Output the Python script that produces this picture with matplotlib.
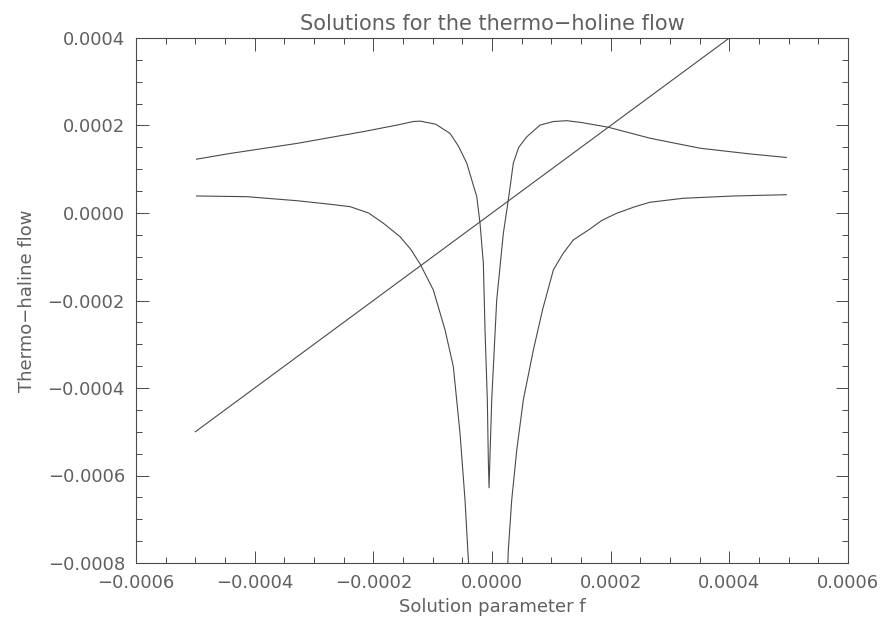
import matplotlib
matplotlib.use("Agg")
import matplotlib.pyplot as plt
from matplotlib.ticker import MultipleLocator, FuncFormatter

# values
upper_x = [-0.000498, -0.000442, -0.000329, -0.000217, -0.000160, -0.000133, -0.000121, -0.000095,
           -0.0000708, -0.0000567, -0.0000426, -0.0000257, -0.0000202, -0.0000146, -0.0000118,
           -0.0000079, -0.0000062, -0.000005, -0.0000005, 0.0000079, 0.0000191,
           0.0000275, 0.0000359, 0.000045, 0.0000585, 0.000081, 0.000103, 0.000126, 0.000150,
           0.000196, 0.000266, 0.000351, 0.000435, 0.000496]
upper_y = [0.000123, 0.000136, 0.000159, 0.000186, 0.000201, 0.000209, 0.000210, 0.000203,
           0.000182, 0.000153, 0.000114, 0.0000373, -0.0000235, -0.000115, -0.000267,
           -0.000427, -0.000565, -0.000628, -0.000427, -0.000199, -0.0000464,
           0.000030, 0.000114, 0.000150, 0.000174, 0.000201, 0.000209, 0.000211, 0.000207,
           0.000196, 0.000171, 0.000148, 0.000135, 0.000127]

lower_left_x = [-0.000498, -0.000413, -0.000329, -0.000273, -0.000239, -0.000208, -0.000183,
                -0.000155, -0.000137, -0.000121, -0.0000989, -0.0000792, -0.0000652,
                -0.0000539, -0.0000455, -0.0000399, -0.000037]
lower_left_y = [0.0000389, 0.0000373, 0.0000281, 0.0000200, 0.0000144, 0.0000000, -0.0000235,
                -0.0000542, -0.0000830, -0.000117, -0.000176, -0.000267, -0.000351,
                -0.000504, -0.000656, -0.000793, -0.00086]

lower_right_x = [0.000025, 0.0000275, 0.0000332, 0.0000417, 0.0000528, 0.0000697, 0.0000854,
                 0.0001034, 0.000120, 0.000137, 0.000165, 0.000185, 0.000210, 0.000240,
                 0.000266, 0.000322, 0.000407, 0.000496]
lower_right_y = [-0.00086, -0.00077, -0.000656, -0.000542, -0.000427, -0.000313, -0.000220,
                 -0.000130, -0.0000920, -0.0000617, -0.0000366, -0.0000170, -0.0000007, 0.0000140,
                 0.0000245, 0.0000336, 0.0000389, 0.0000418]

line_x = [-0.0005, 0.0005]
line_y = [-0.0005, 0.0005]

gray = "#4a4a4a"
txt = "#606060"

fig = plt.figure(figsize=(8.85, 6.25), dpi=100)
ax = fig.add_axes([0.1537, 0.0992, 0.8045, 0.840])

for xs, ys in [(upper_x, upper_y), (lower_left_x, lower_left_y),
               (lower_right_x, lower_right_y), (line_x, line_y)]:
    ax.plot(xs, ys, color=gray, lw=0.8)

ax.set_xlim(-0.0006, 0.0006)
ax.set_ylim(-0.0008, 0.0004)
ax.xaxis.set_major_locator(MultipleLocator(0.0002))
ax.xaxis.set_minor_locator(MultipleLocator(0.00005))
ax.yaxis.set_major_locator(MultipleLocator(0.0002))
ax.yaxis.set_minor_locator(MultipleLocator(0.00005))

fmt = FuncFormatter(lambda v, p: ("%.4f" % v).replace("-", "\u2212") if abs(v) > 1e-12 else "0.0000")
ax.xaxis.set_major_formatter(fmt)
ax.yaxis.set_major_formatter(fmt)

ax.tick_params(which="both", direction="in", top=True, right=True,
               colors=gray, labelcolor=txt, labelsize=13, width=0.7)
ax.tick_params(which="major", length=9, pad=8)
ax.tick_params(which="minor", length=4)
for s in ax.spines.values():
    s.set_color(gray)
    s.set_linewidth(0.8)

ax.set_title("Solutions for the thermo\u2212holine flow", color=txt, fontsize=15, pad=6)
ax.set_xlabel("Solution parameter f", color=txt, fontsize=13, labelpad=4)
ax.set_ylabel("Thermo\u2212haline flow", color=txt, fontsize=13, labelpad=8)

fig.savefig("out.png", dpi=100)
